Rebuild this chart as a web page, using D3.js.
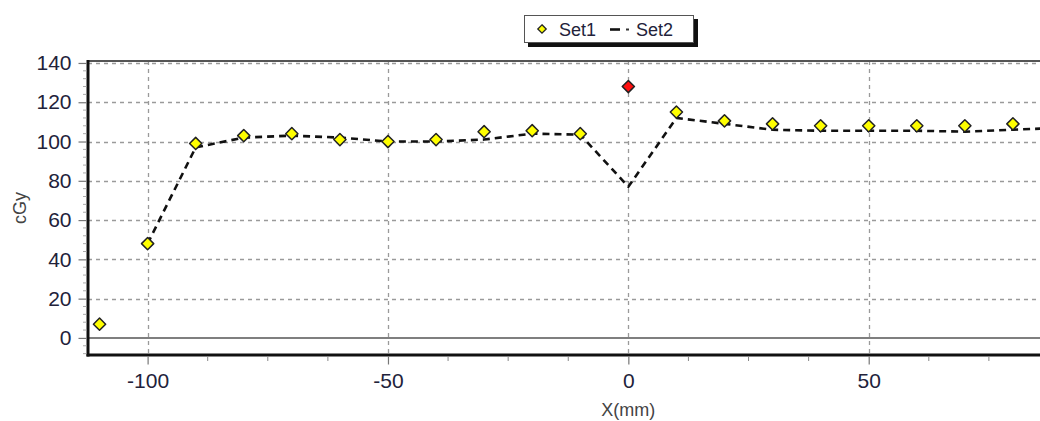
<!DOCTYPE html>
<html>
<head>
<meta charset="utf-8">
<script src="https://cdn.jsdelivr.net/npm/d3@7"></script>
<style>
  html, body { margin: 0; padding: 0; background: #fff; }
  svg { display: block; font-family: "Liberation Sans", Arial, sans-serif; }
</style>
</head>
<body>
<svg id="chart" width="1040" height="421"></svg>
<script>
// Measured dose profile (Set1) and reference profile (Set2)
const set1X = [-110, -100, -90, -80, -70, -60, -50, -40, -30, -20, -10, 0, 10, 20, 30, 40, 50, 60, 70, 80];
const set1Y = [7, 48, 99, 103, 104, 101, 100, 101, 105, 105.5, 104, 128, 115, 110.5, 109, 108, 108, 108, 108, 109];
const set1Flag = [0, 0, 0, 0, 0, 0, 0, 0, 0, 0, 0, 1, 0, 0, 0, 0, 0, 0, 0, 0]; // 1 = out of tolerance
const set2X = [-100, -90, -80, -70, -60, -50, -40, -30, -20, -10, 0, 10, 20, 30, 40, 50, 60, 70, 80, 90];
const set2Y = [48, 97, 102, 103, 102, 100, 100, 101, 104, 103.5, 77, 112, 109, 106, 105.5, 105.5, 105.5, 105, 106, 107];
const xTicks = [-100, -50, 0, 50];
const yTicks = [0, 20, 40, 60, 80, 100, 120, 140];
const seriesNames = ["Set1", "Set2"];

(function () {
const svg = d3.select("#chart");
const pL = 88, pT = 61, pB = 355, pR = 1061;
const txt = "#22223a";
const fontFam = "Liberation Sans, Arial, sans-serif";

const x = d3.scaleLinear().domain([-112.4, 90]).range([pL, pR]);
const y = d3.scaleLinear().domain([-8.7, 141]).range([pB, pT]);

svg.append("defs").append("clipPath").attr("id", "plotclip")
  .append("rect").attr("x", pL).attr("y", pT).attr("width", pR - pL).attr("height", pB - pT);

// grid
const grid = svg.append("g").attr("clip-path", "url(#plotclip)");
grid.selectAll("line.hg").data(yTicks.filter(d => d !== 0)).join("line")
  .attr("x1", pL).attr("x2", pR)
  .attr("y1", d => Math.round(y(d)) + 0.5).attr("y2", d => Math.round(y(d)) + 0.5)
  .attr("stroke", "#9a9a9a").attr("stroke-width", 1.3).attr("stroke-dasharray", "4,4");
grid.selectAll("line.vg").data(xTicks).join("line")
  .attr("x1", d => Math.round(x(d)) + 0.5).attr("x2", d => Math.round(x(d)) + 0.5)
  .attr("y1", pT).attr("y2", pB)
  .attr("stroke", "#9a9a9a").attr("stroke-width", 1.3).attr("stroke-dasharray", "4,4");

// zero line
svg.append("line").attr("x1", pL).attr("x2", pR)
  .attr("y1", y(0)).attr("y2", y(0)).attr("stroke", "#555").attr("stroke-width", 1.5);

// Set2 dashed line
const line = d3.line().x((d, i) => x(set2X[i])).y(d => y(d));
svg.append("path").datum(set2Y).attr("clip-path", "url(#plotclip)")
  .attr("d", line).attr("fill", "none").attr("stroke", "#111")
  .attr("stroke-width", 2.6).attr("stroke-dasharray", "7,5");

// Set1 diamond markers
const diamond = d3.symbol().type(d3.symbolDiamond2).size(95);
svg.append("g").attr("clip-path", "url(#plotclip)")
  .selectAll("path").data(set1Y).join("path")
  .attr("d", diamond)
  .attr("transform", (d, i) => `translate(${x(set1X[i])},${y(d)})`)
  .attr("fill", (d, i) => set1Flag[i] ? "#ff1010" : "#ffff00")
  .attr("stroke", "#222").attr("stroke-width", 1.5).attr("stroke-linejoin", "round");

// frame
svg.append("line").attr("x1", pL).attr("x2", pR).attr("y1", pT).attr("y2", pT)
  .attr("stroke", "#555").attr("stroke-width", 2);
svg.append("line").attr("x1", pL).attr("x2", pL).attr("y1", pT - 1).attr("y2", pB + 1.5)
  .attr("stroke", "#111").attr("stroke-width", 3);
svg.append("line").attr("x1", pL - 1.5).attr("x2", pR).attr("y1", pB).attr("y2", pB)
  .attr("stroke", "#111").attr("stroke-width", 3);

// axes
const yAxis = d3.axisLeft(y).tickValues(yTicks).tickSize(8).tickPadding(7).tickFormat(d => String(d));
const gy = svg.append("g").attr("transform", `translate(${pL - 1.5},0)`).call(yAxis);
gy.select(".domain").remove();
gy.selectAll(".tick line").attr("stroke", "#777").attr("stroke-width", 1.2);
gy.selectAll(".tick text").attr("font-size", 21).attr("fill", txt).attr("font-family", fontFam);

const yMinor = d3.range(-8, 141, 4).filter(v => v % 20 !== 0);
svg.append("g").selectAll("line").data(yMinor).join("line")
  .attr("x1", pL - 5).attr("x2", pL - 1.5)
  .attr("y1", d => y(d)).attr("y2", d => y(d))
  .attr("stroke", "#aaa").attr("stroke-width", 1);

const xAxis = d3.axisBottom(x).tickValues(xTicks).tickSize(8).tickPadding(9).tickFormat(d => String(d));
const gx = svg.append("g").attr("transform", `translate(0,${pB + 1.5})`).call(xAxis);
gx.select(".domain").remove();
gx.selectAll(".tick line").attr("stroke", "#777").attr("stroke-width", 1.2);
gx.selectAll(".tick text").attr("font-size", 21).attr("fill", txt).attr("font-family", fontFam);

const xMinor = d3.range(-112.5, 91, 12.5).filter(v => v % 50 !== 0 && v > -112.4);
svg.append("g").selectAll("line").data(xMinor).join("line")
  .attr("x1", d => x(d)).attr("x2", d => x(d))
  .attr("y1", pB + 1.5).attr("y2", pB + 6)
  .attr("stroke", "#888").attr("stroke-width", 1);

// axis titles
svg.append("text").attr("x", x(0)).attr("y", 416).attr("text-anchor", "middle")
  .attr("font-size", 18).attr("fill", "#444").text("X(mm)");
svg.append("text").attr("transform", "translate(26,208) rotate(-90)").attr("text-anchor", "middle")
  .attr("font-size", 18).attr("fill", "#444").text("cGy");

// legend
const lg = svg.append("g").attr("transform", "translate(524,15)");
lg.append("rect").attr("x", 4).attr("y", 4).attr("width", 170).attr("height", 28).attr("fill", "#111");
lg.append("rect").attr("x", 0.5).attr("y", 0.5).attr("width", 169).attr("height", 27)
  .attr("fill", "#fff").attr("stroke", "#555").attr("stroke-width", 1);
lg.append("path").attr("d", d3.symbol().type(d3.symbolDiamond2).size(45))
  .attr("transform", "translate(18,14)").attr("fill", "#ffff00").attr("stroke", "#222").attr("stroke-width", 1.3);
lg.append("text").attr("x", 35).attr("y", 21).attr("font-size", 18).attr("fill", txt).text(seriesNames[0]);
lg.append("line").attr("x1", 86).attr("x2", 96).attr("y1", 14.5).attr("y2", 14.5).attr("stroke", "#111").attr("stroke-width", 2.6);
lg.append("line").attr("x1", 102).attr("x2", 105).attr("y1", 14.5).attr("y2", 14.5).attr("stroke", "#333").attr("stroke-width", 2);
lg.append("text").attr("x", 112).attr("y", 21).attr("font-size", 18).attr("fill", txt).text(seriesNames[1]);
})();
</script>
</body>
</html>
